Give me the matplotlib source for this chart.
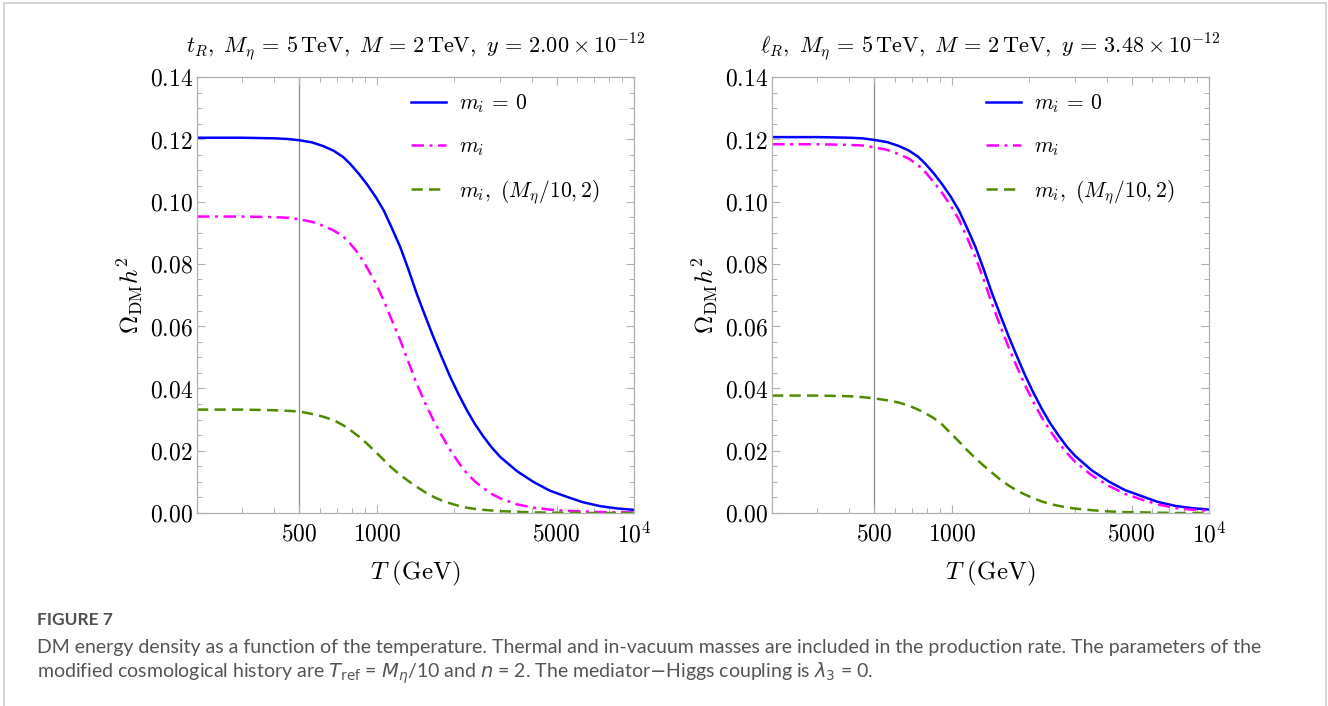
import matplotlib
matplotlib.use("Agg")
import matplotlib.pyplot as plt
from matplotlib.patches import Rectangle
from matplotlib.ticker import FixedLocator, NullFormatter

plt.rcParams['mathtext.fontset'] = 'cm'
plt.rcParams['font.family'] = ['DejaVu Serif']

# values (T in GeV, Omega h^2), same T grid for both panels
T = [200, 300, 400, 450, 500, 560, 620, 680, 740, 790, 850, 915, 990, 1065, 1140, 1235, 1330, 1430,
     1540, 1660, 1790, 1930, 2080, 2240, 2410, 2600, 2800, 3020, 3500, 4060, 4700, 5480, 6300,
     7380, 8500, 10000]

blue_left = [0.1205, 0.1205, 0.1203, 0.1201, 0.1197, 0.1190, 0.1178, 0.1163, 0.1143, 0.1120, 0.1090,
             0.1056, 0.1015, 0.0971, 0.0918, 0.0853, 0.0780, 0.0704, 0.0634, 0.0565, 0.0500, 0.0437,
             0.0381, 0.0330, 0.0285, 0.0245, 0.0210, 0.0180, 0.0135, 0.0100, 0.0072, 0.0052, 0.0035,
             0.0022, 0.0015, 0.0010]
mag_left = [0.0952, 0.0952, 0.0950, 0.0948, 0.0943, 0.0935, 0.0922, 0.0907, 0.0888, 0.0864, 0.0832,
            0.0789, 0.0738, 0.0682, 0.0622, 0.0554, 0.0483, 0.0415, 0.0354, 0.0298, 0.0248, 0.0202,
            0.0162, 0.0127, 0.0101, 0.0079, 0.0061, 0.0047, 0.0028, 0.0017, 0.0011, 0.0007, 0.0005,
            0.0003, 0.0002, 0.0002]
green_left = [0.0332, 0.0332, 0.0330, 0.0328, 0.0326, 0.0318, 0.0309, 0.0298, 0.0282, 0.0266, 0.0246,
              0.0223, 0.0196, 0.0170, 0.0146, 0.0122, 0.0102, 0.0084, 0.0067, 0.0052, 0.0040, 0.0031,
              0.0023, 0.0017, 0.0013, 0.0010, 0.0008, 0.0006, 0.0004, 0.0002, 0.0001, 0.0001, 0.0,
              0.0, 0.0, 0.0]

blue_right = [0.1207, 0.1207, 0.1205, 0.1203, 0.1198, 0.1191, 0.1179, 0.1164, 0.1144, 0.1121, 0.1091,
              0.1057, 0.1016, 0.0972, 0.0920, 0.0855, 0.0783, 0.0708, 0.0638, 0.0569, 0.0504, 0.0441,
              0.0385, 0.0334, 0.0289, 0.0249, 0.0213, 0.0183, 0.0137, 0.0102, 0.0074, 0.0054, 0.0036,
              0.0023, 0.0016, 0.0011]
mag_right = [0.1184, 0.1184, 0.1182, 0.1180, 0.1174, 0.1166, 0.1153, 0.1138, 0.1117, 0.1094, 0.1063,
             0.1029, 0.0987, 0.0943, 0.0889, 0.0822, 0.0750, 0.0674, 0.0603, 0.0534, 0.0470, 0.0409,
             0.0355, 0.0306, 0.0264, 0.0226, 0.0193, 0.0164, 0.0121, 0.0088, 0.0062, 0.0043, 0.0028,
             0.0016, 0.0011, 0.0007]
green_right = [0.0377, 0.0377, 0.0375, 0.0372, 0.0368, 0.0362, 0.0355, 0.0345, 0.0332, 0.0320, 0.0305,
               0.0285, 0.0256, 0.0230, 0.0204, 0.0176, 0.0152, 0.0130, 0.0108, 0.0089, 0.0072, 0.0059,
               0.0047, 0.0037, 0.0029, 0.0023, 0.0018, 0.0014, 0.0009, 0.0005, 0.0003, 0.0002, 0.0001,
               0.0, 0.0, 0.0]

titles = [r'$t_R,\ M_\eta\, =\, 5\,\mathrm{TeV},\ M\, =\, 2\,\mathrm{TeV},\ y\, =\, 2.00\times 10^{-12}$',
          r'$\ell_R,\ M_\eta\, =\, 5\,\mathrm{TeV},\ M\, =\, 2\,\mathrm{TeV},\ y\, =\, 3.48\times 10^{-12}$']
labels = [r'$m_i\, =\, 0$', r'$m_i$', r'$m_i,\ (M_\eta/10, 2)$']
x_major = [500, 1000, 5000, 10000]
x_major_labels = [r'$500$', r'$1000$', r'$5000$', r'$10^4$']
x_minor = [200, 300, 400, 600, 700, 800, 900, 2000, 3000, 4000, 6000, 7000, 8000, 9000]
y_major = [0.0, 0.02, 0.04, 0.06, 0.08, 0.10, 0.12, 0.14]
T_ref = 500

frame_col = '#b0b0b0'
green = '#4f8a00'

fig = plt.figure(figsize=(13.28, 7.06), dpi=100)
axL = fig.add_axes([197/1328, 1-513/706, 437/1328, 436/706])
axR = fig.add_axes([772/1328, 1-513/706, 437/1328, 436/706])

panels = [(axL, blue_left, mag_left, green_left),
          (axR, blue_right, mag_right, green_right)]

for i, (ax, b, m, g) in enumerate(panels):
    ax.axvline(T_ref, color='#888888', lw=0.9, zorder=1)
    ax.plot(T, b, color='#0000ff', lw=1.8, label=labels[0])
    ax.plot(T, m, color='#ff00ff', lw=1.8, dashes=[5, 2.2, 1.2, 2.2], label=labels[1])
    ax.plot(T, g, color=green, lw=1.8, dashes=[4.5, 2.5], label=labels[2])
    ax.set_xscale('log')
    ax.set_xlim(200, 10000)
    ax.set_ylim(0, 0.14)
    ax.xaxis.set_major_locator(FixedLocator(x_major))
    ax.set_xticklabels(x_major_labels)
    ax.xaxis.set_minor_locator(FixedLocator(x_minor))
    ax.xaxis.set_minor_formatter(NullFormatter())
    ax.set_yticks(y_major)
    ax.set_yticklabels(['$%.2f$' % v for v in y_major])
    ax.set_yticks([k * 0.005 for k in range(29)], minor=True)
    ax.tick_params(which='both', direction='in', top=True, right=True,
                   color=frame_col, labelsize=17)
    ax.tick_params(which='major', length=6, width=0.8)
    ax.tick_params(which='minor', length=3.5, width=0.7)
    ax.tick_params(axis='y', pad=3)
    ax.tick_params(axis='x', pad=7)
    for s in ax.spines.values():
        s.set_color(frame_col)
        s.set_linewidth(0.9)
    ax.set_title(titles[i], fontsize=16, pad=18)
    ax.set_xlabel(r'$T\ (\mathrm{GeV})$', fontsize=18, labelpad=8)
    ax.set_ylabel(r'$\Omega_{\mathrm{DM}}h^2$', fontsize=18, labelpad=3)
    ax.legend(loc='upper right', frameon=False, fontsize=15.5, handlelength=1.6,
              labelspacing=0.95, borderaxespad=0.3, handletextpad=0.6,
              bbox_to_anchor=(0.955, 1.0))

# page frame and caption
fig.patches.append(Rectangle((4/1328, -0.1), 1322/1328, 1.1 - 3/706, transform=fig.transFigure,
                             fill=False, edgecolor='#d0d0d0', lw=1.2))
fig.text(37/1328, 1-620/706, 'FIGURE 7', fontsize=12.5, color='#505050', weight='bold',
         family='Lato', va='center')
cap1 = ('DM energy density as a function of the temperature. Thermal and in-vacuum masses are included '
        'in the production rate. The parameters of the')
cap2 = (r'modified cosmological history are $T_{\mathrm{ref}}$ = $M_\eta$/10 and $n$ = 2. '
        r'The mediator$-$Higgs coupling is $\lambda_3$ = 0.')
fig.text(37/1328, 1-648/706, cap1, fontsize=14, color='#555555', family='Lato',
         va='center', math_fontfamily='dejavusans')
fig.text(37/1328, 1-673/706, cap2, fontsize=14, color='#555555', family='Lato',
         va='center', math_fontfamily='dejavusans')

fig.savefig('out.png', dpi=100)
